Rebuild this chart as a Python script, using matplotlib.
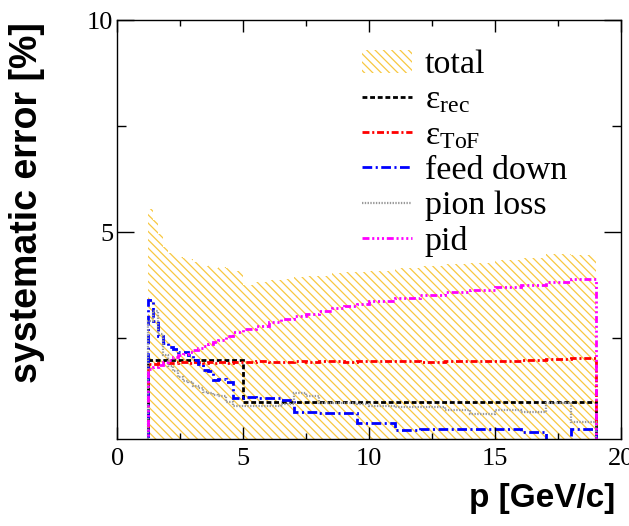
#!/usr/bin/env python3

import numpy as np
import matplotlib
matplotlib.use('Agg')
import matplotlib.pyplot as plt

# momentum binning [GeV/c], empty bins below 1.2 and above 19
edges = [0.0, 1.2, 1.4, 1.6, 1.8, 2.0, 2.2, 2.4, 2.6, 2.8, 3.0, 3.2, 3.4, 3.6, 3.8,
         4.0, 4.3, 4.6, 5.0, 5.5, 6.0, 6.5, 7.0, 7.5, 8.0, 8.5, 9.0, 9.5, 10.0,
         11.0, 12.0, 13.0, 14.0, 15.0, 16.0, 17.0, 18.0, 19.0, 20.0]

# systematic errors in %
total = [5.55, 5.3, 4.95, 4.66, 4.52, 4.47, 4.41, 4.39, 4.36, 4.31, 4.28, 4.21,
         4.22, 4.16, 4.19, 4.17, 4.1, 3.77, 3.82, 3.87, 3.9, 3.95, 3.97, 3.98,
         4.03, 4.07, 4.07, 4.1, 4.15, 4.2, 4.25, 4.28, 4.35, 4.39, 4.48, 4.47]
eff_rec = [2.0] * 17 + [1.0] * 19
eff_tof = [1.90, 1.90, 1.92, 1.93, 1.93, 1.93, 1.94, 1.94, 1.93, 1.94, 1.94, 1.93,
           1.94, 1.93, 1.94, 1.93, 1.94, 1.95, 1.96, 1.95, 1.95, 1.96, 1.95, 1.96,
           1.96, 1.95, 1.96, 1.96, 1.96, 1.95, 1.97, 1.97, 1.97, 1.99, 2.01, 2.03]
feed_down = [3.4, 2.9, 2.55, 2.4, 2.3, 2.25, 2.17, 2.17, 2.1, 2.0, 1.9, 1.75,
             1.72, 1.53, 1.55, 1.48, 1.1, 1.12, 1.1, 1.1, 1.05, 0.77, 0.77, 0.75,
             0.74, 0.74, 0.5, 0.5, 0.34, 0.36, 0.36, 0.36, 0.36, 0.29, 0.08, 0.36]
pion_loss = [2.9, 3.15, 2.6, 2.1, 1.85, 1.72, 1.6, 1.5, 1.46, 1.38, 1.34, 1.24,
             1.22, 1.17, 1.15, 1.0, 0.9, 0.91, 0.91, 0.91, 0.95, 1.22, 1.15, 0.98,
             0.98, 0.98, 0.95, 0.91, 0.89, 0.89, 0.8, 0.72, 0.8, 0.77, 0.98, 0.52]
pid = [1.77, 1.82, 1.88, 1.95, 2.0, 2.05, 2.1, 2.13, 2.17, 2.22, 2.27, 2.32,
       2.37, 2.42, 2.47, 2.55, 2.65, 2.72, 2.8, 2.89, 2.95, 3.03, 3.08, 3.15,
       3.22, 3.27, 3.32, 3.38, 3.46, 3.53, 3.59, 3.65, 3.72, 3.77, 3.84, 3.9]


def padded(vals):
    return np.concatenate([[0.0], vals, [0.0]])


def plot():
    plt.rcParams['lines.scale_dashes'] = False
    plt.rcParams['hatch.linewidth'] = 0.9
    plt.rcParams['mathtext.fontset'] = 'custom'
    plt.rcParams['mathtext.rm'] = 'Liberation Serif'
    plt.rcParams['mathtext.it'] = 'Liberation Serif:italic'

    fig = plt.figure(figsize=(6.29, 5.26), dpi=100)
    ax = fig.add_axes([0.1865, 0.1648, 0.8013, 0.7966])

    ax.stairs(padded(total), edges, fill=True, hatch='\\\\\\\\', facecolor='none',
              edgecolor='#f8c840', linewidth=0, label='total')

    ax.stairs(padded(eff_rec), edges, baseline=None, color='black', lw=2.0,
              linestyle=(0, (3.5, 2)), label=r'ε$_\mathrm{rec}$')
    ax.stairs(padded(eff_tof), edges, baseline=None, color='#ff0000', lw=2.0,
              linestyle=(0, (5, 2, 1.5, 2)), label=r'ε$_\mathrm{ToF}$')
    ax.stairs(padded(feed_down), edges, baseline=None, color='#0000ff', lw=2.0,
              linestyle=(0, (7, 2.5, 1.5, 2.5)), label='feed down')
    ax.stairs(padded(pion_loss), edges, baseline=None, color='#999999', lw=1.6,
              linestyle=(0, (1, 1)), label='pion loss')
    ax.stairs(padded(pid), edges, baseline=None, color='#ff00ff', lw=2.0,
              linestyle=(0, (5, 2, 1.5, 2, 1.5, 2, 1.5, 2)), label='pid')

    ax.set_xlim(0, 20)
    ax.set_ylim(0.12, 10)
    ax.set_xticks([0, 5, 10, 15, 20])
    ax.set_xticks(np.arange(0, 20.1, 2.5), minor=True)
    ax.set_yticks([5, 10])
    ax.set_yticks([2.5, 5, 7.5, 10], minor=True)

    for s in ax.spines.values():
        s.set_linewidth(1.0)

    ax.tick_params(which='both', direction='in', top=True, right=True, width=1.0)
    ax.tick_params(axis='x', which='major', length=8.6, pad=6)
    ax.tick_params(axis='x', which='minor', length=4.3)
    ax.tick_params(axis='y', which='major', length=12, pad=3)
    ax.tick_params(axis='y', which='minor', length=6.5)
    for lab in ax.get_xticklabels() + ax.get_yticklabels():
        lab.set_fontfamily('Liberation Serif')
        lab.set_fontsize(19)

    ax.set_xlabel('p [GeV/c]', family='Liberation Sans', weight='bold',
                  fontsize=24, ha='right', va='top')
    ax.xaxis.set_label_coords(0.988, -0.105)
    ax.set_ylabel('systematic error [%]', family='Liberation Sans',
                  weight='bold', fontsize=27, ha='right', va='center')
    ax.yaxis.set_label_coords(-0.179, 0.995)

    ax.legend(loc='upper left', bbox_to_anchor=(0.4855, 0.93), frameon=False,
              prop={'family': 'Liberation Serif', 'size': 24.5},
              handlelength=1.47, handletextpad=0.38, labelspacing=0.13,
              borderpad=0, borderaxespad=0)

    plt.savefig('out.png', dpi=100)


if __name__ == '__main__':

    plot()
